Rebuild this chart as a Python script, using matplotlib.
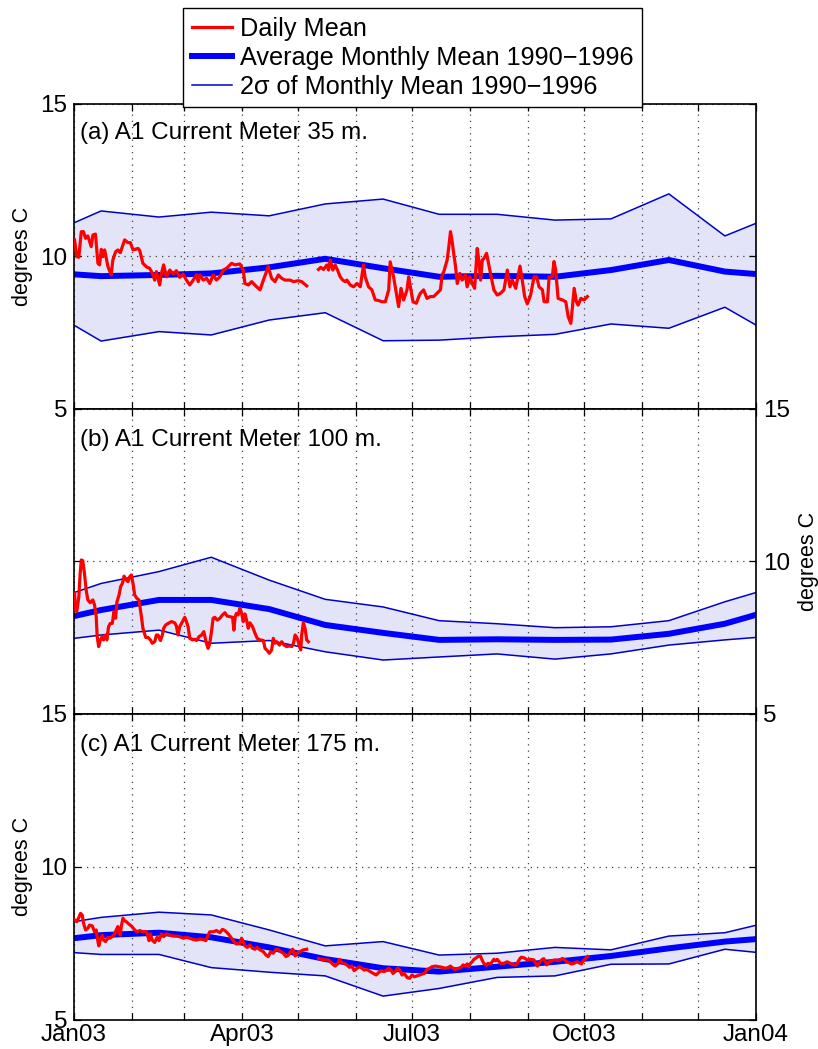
import numpy as np
import matplotlib
matplotlib.use("Agg")
import matplotlib.pyplot as plt
from matplotlib.lines import Line2D

plt.rcParams['font.family'] = ['Liberation Sans', 'DejaVu Sans']
plt.rcParams['font.size'] = 17.5

# ---------------------------------------------------------------- data
# day offsets from 1 Jan 2003 of the start of each month (and of Jan 2004)
month_start = [0, 31, 59, 90, 120, 151, 181, 212, 243, 273, 304, 334, 365]
tick_names = {0: 'Jan03', 90: 'Apr03', 181: 'Jul03', 273: 'Oct03', 365: 'Jan04'}

# climatology nodes: 1 Jan, the 15th of each month, 1 Jan of next year
clim_days = [0, 14.5, 45.5, 73.5, 104.5, 134.5, 165.5, 195.5, 226.5, 257.5,
             287.5, 318.5, 348.5, 365]

# (a) 35 m
mean_a = [9.41, 9.35, 9.39, 9.44, 9.64, 9.92, 9.61, 9.33, 9.36, 9.33, 9.55, 9.88, 9.50, 9.42]
upper_a = [11.10, 11.49, 11.29, 11.45, 11.33, 11.72, 11.88, 11.38, 11.38, 11.19, 11.23, 12.05, 10.67, 11.08]
lower_a = [7.74, 7.22, 7.53, 7.42, 7.91, 8.15, 7.23, 7.25, 7.36, 7.44, 7.78, 7.64, 8.33, 7.75]

# (b) 100 m
mean_b = [8.20, 8.40, 8.73, 8.73, 8.43, 7.91, 7.65, 7.42, 7.44, 7.42, 7.43, 7.62, 7.95, 8.24]
upper_b = [8.97, 9.27, 9.66, 10.13, 9.38, 8.75, 8.50, 8.05, 7.95, 7.82, 7.85, 8.05, 8.67, 8.97]
lower_b = [7.47, 7.58, 7.74, 7.31, 7.40, 7.03, 6.76, 6.86, 6.96, 6.79, 6.96, 7.25, 7.42, 7.50]

# (c) 175 m
mean_c = [7.67, 7.77, 7.85, 7.70, 7.37, 6.99, 6.69, 6.58, 6.74, 6.90, 7.09, 7.34, 7.56, 7.64]
upper_c = [8.21, 8.35, 8.52, 8.43, 7.94, 7.42, 7.56, 7.12, 7.18, 7.37, 7.29, 7.74, 7.85, 8.09]
lower_c = [7.20, 7.14, 7.14, 6.71, 6.56, 6.44, 5.78, 6.03, 6.39, 6.44, 6.82, 6.83, 7.31, 7.21]

# daily means (day offset, degrees C); NaN marks a gap in the record
day_a = [0.3, 1.5, 2.6, 3.9, 5.1, 6.2, 7.4, 9.2, 10.1, 11.5, 12.8, 13.7, 14.6, 15.5, 16.4,
         18.2, 19.9, 20.8, 22.3, 23.5, 24.8, 27.1, 28.9, 30.2, 31.6, 34.3, 35.2, 36.9, 39.1,
         40.5, 42.0, 43.2, 44.1, 45.9, 46.8, 48.0, 49.5, 51.3, 53.1, 54.8, 56.6, 58.4, 60.2,
         62.0, 63.8, 65.6, 66.5, 67.4, 69.2, 71.0, 72.7, 74.5, 76.3, 78.1, 79.9, 81.7, 84.4,
         86.2, 88.8, 90.6, 91.5, 93.3, 95.1, 97.8, 99.6, 101.4, 104.0, 105.8, 107.6, 109.4,
         111.2, 113.0, 115.7, 117.5, 120.1, 121.9, 124.6, 127.5,
         130.9, 132.1, 133.6, 135.4, 136.3, 137.2, 138.6, 139.8, 141.1, 142.5, 143.9, 145.2,
         146.1, 147.9, 149.7, 151.5, 153.3, 155.0, 155.9, 157.7, 159.5, 161.3, 163.1, 164.9,
         166.7, 168.5, 169.3, 171.1, 172.6, 173.8, 175.1, 176.5, 178.3, 179.2, 180.1, 181.5,
         183.3, 184.6, 185.5, 187.2, 189.0, 190.8, 192.6, 194.4, 196.2, 197.1, 198.0, 199.8,
         200.7, 201.6, 202.5, 203.4, 204.3, 205.2, 206.6, 207.8, 209.6, 210.5, 212.0, 213.2,
         214.5, 215.9, 216.8, 217.7, 218.6, 219.5, 220.9, 221.6, 223.0, 224.8, 226.6, 228.4,
         230.2, 232.0, 233.4, 234.7, 236.5, 238.8, 240.0, 241.3, 242.7, 244.5, 246.3, 247.7,
         249.0, 250.8, 251.7, 253.5, 254.4, 256.1, 257.0, 257.9, 259.2, 261.5, 263.3, 264.6,
         266.0, 266.9, 267.8, 269.0, 269.9, 271.4, 273.1, 274.9]
temp_a = [10.54, 9.99, 9.97, 10.81, 10.81, 10.59, 10.67, 10.32, 10.70, 10.73, 9.77, 9.72, 10.23,
          9.99, 10.21, 9.66, 9.39, 9.88, 10.15, 10.21, 10.12, 10.54, 10.45, 10.45, 10.21, 10.26,
          10.19, 9.77, 9.64, 9.61, 9.44, 9.22, 9.50, 9.06, 9.44, 9.72, 9.33, 9.55, 9.42, 9.53,
          9.31, 9.42, 9.22, 9.06, 9.22, 9.39, 9.17, 9.39, 9.22, 9.28, 9.11, 9.39, 9.22, 9.33,
          9.55, 9.61, 9.77, 9.72, 9.75, 9.55, 9.11, 9.06, 9.17, 9.00, 8.90, 9.22, 9.66, 9.28,
          9.17, 9.39, 9.28, 9.22, 9.22, 9.17, 9.20, 9.17, 9.03, np.nan,
          9.57, 9.64, 9.57, 9.72, 9.55, 9.88, 9.55, 9.72, 9.55, 9.33, 9.22, 9.17, 9.22, 9.06,
          9.00, 9.11, 9.00, 9.72, 9.33, 9.00, 8.90, 8.57, 8.55, 8.51, 8.51, 8.90, 9.82, 9.33,
          8.79, 8.35, 8.95, 8.57, 8.90, 9.33, 9.00, 8.51, 8.46, 8.68, 8.79, 8.90, 8.62, 8.68,
          8.68, 8.79, 8.90, 9.39, 9.50, 9.88, 10.32, 10.81, 10.48, 10.05, 9.66, 9.11, 9.44,
          9.22, 9.39, 9.00, 9.33, 9.11, 8.95, 10.26, 9.83, 9.22, 9.88, 9.93, 10.10, 9.88, 9.44,
          8.90, 8.73, 8.79, 8.90, 9.55, 9.00, 9.22, 8.95, 9.68, 9.22, 8.68, 8.44, 8.73, 9.33,
          9.33, 9.00, 8.90, 8.51, 8.51, 9.33, 9.33, 9.83, 9.55, 8.62, 8.57, 8.51, 8.02, 7.80,
          8.35, 8.95, 8.51, 8.40, 8.62, 8.57, 8.68]

day_b = [0.3, 0.8, 1.5, 2.6, 3.3, 3.9, 4.7, 5.6, 6.5, 7.4, 8.7, 10.1, 11.0, 11.9, 12.4, 13.2,
         14.1, 15.1, 15.8, 16.9, 17.6, 18.5, 19.4, 20.5, 21.4, 22.3, 23.0, 24.1, 25.0, 25.9,
         26.8, 28.0, 28.9, 29.8, 30.7, 31.6, 32.5, 33.7, 34.8, 36.1, 36.9, 38.4, 39.6, 40.9,
         41.9, 43.2, 44.1, 45.0, 46.3, 47.3, 48.0, 49.1, 50.4, 52.2, 53.9, 54.8, 55.7, 56.6,
         58.1, 59.3, 60.2, 61.1, 62.0, 63.4, 64.7, 65.6, 67.0, 68.3, 69.5, 70.9, 71.8, 72.7,
         73.6, 74.5, 75.4, 76.7, 78.1, 79.5, 80.8, 82.0, 83.5, 84.9, 85.6, 86.3, 87.0, 87.9,
         88.8, 89.7, 90.6, 91.5, 92.4, 93.3, 94.2, 95.6, 96.9, 98.1, 99.6, 101.4, 102.3, 103.2,
         104.6, 105.8, 106.7, 107.6, 108.5, 110.0, 111.2, 112.5, 113.9, 115.3, 116.6, 117.5,
         118.4, 119.3, 120.1, 120.7, 121.4, 121.9, 122.8, 123.7, 124.6, 125.5]
temp_b = [8.95, 8.40, 8.35, 8.84, 9.60, 10.04, 10.02, 9.60, 9.06, 8.73, 8.64, 8.73, 8.56, 8.18,
          7.53, 7.20, 7.42, 7.53, 7.42, 7.58, 7.42, 7.85, 7.96, 7.96, 8.35, 8.13, 8.67, 8.89,
          9.17, 9.27, 9.51, 9.38, 9.33, 9.49, 9.55, 9.27, 8.89, 8.78, 8.73, 8.18, 7.80, 7.50,
          7.50, 7.42, 7.31, 7.36, 7.58, 7.58, 7.40, 7.58, 7.80, 7.91, 7.96, 8.02, 7.98, 7.88,
          7.58, 7.85, 8.02, 8.16, 8.02, 7.85, 7.47, 7.42, 7.44, 7.40, 7.53, 7.58, 7.69, 7.31,
          7.14, 7.31, 7.69, 8.13, 8.16, 8.07, 8.13, 8.24, 8.31, 8.20, 8.18, 8.16, 7.74, 8.18,
          8.29, 8.24, 8.46, 8.31, 8.02, 8.27, 8.07, 7.80, 7.98, 7.85, 7.64, 7.47, 7.42, 7.40,
          7.14, 7.09, 6.98, 7.09, 7.47, 7.31, 7.36, 7.25, 7.36, 7.25, 7.20, 7.22, 7.20, 7.31,
          7.58, 7.50, 7.36, 7.20, 7.09, 7.58, 7.98, 7.80, 7.42, 7.36]

day_c = [0.3, 1.5, 2.6, 3.5, 4.4, 5.1, 6.2, 7.4, 8.3, 9.8, 11.0, 11.9, 12.8, 13.3, 14.0, 15.1,
         15.8, 16.9, 18.2, 19.1, 19.9, 20.8, 21.7, 22.6, 23.5, 24.1, 24.8, 25.3, 26.2, 27.1,
         28.0, 29.4, 30.7, 32.5, 33.7, 35.2, 36.9, 38.4, 39.1, 40.2, 40.9, 41.9, 43.2, 44.5,
         45.5, 46.8, 48.0, 49.5, 51.3, 53.1, 54.8, 56.6, 58.4, 60.2, 62.0, 63.8, 65.6, 67.4,
         69.2, 70.6, 71.8, 72.7, 74.5, 76.3, 78.1, 79.5, 80.8, 82.6, 84.4, 85.6, 87.0, 88.8,
         89.7, 90.6, 91.5, 92.8, 94.2, 95.6, 96.9, 98.1, 99.6, 101.4, 102.8, 104.0, 105.3,
         106.7, 108.2, 109.4, 110.7, 112.1, 113.5, 114.8, 116.0, 117.1, 118.4, 119.6, 121.0,
         122.8, 124.6, 127.5,
         130.9, 132.7, 134.5, 136.3, 138.0, 139.8, 141.1, 142.2, 143.4, 144.7, 146.1, 147.5,
         148.8, 150.0, 151.5, 152.9, 154.1, 155.4, 156.8, 158.6, 160.4, 161.8, 163.1, 164.3,
         165.8, 167.2, 168.5, 169.7, 170.8, 172.0, 173.3, 174.4, 175.6, 176.9, 178.3, 179.7,
         181.0, 182.2, 183.7, 185.1, 186.3, 187.6, 189.0, 190.5, 191.7, 193.5, 195.3, 197.1,
         198.9, 200.6, 201.5, 203.0, 204.2, 206.0, 207.3, 208.3, 209.6, 210.5, 211.4, 212.3,
         213.2, 214.1, 215.0, 216.2, 217.6, 218.5, 219.4, 220.9, 221.6, 223.0, 223.9, 224.8,
         225.7, 226.6, 228.4, 230.2, 231.9, 233.7, 235.5, 237.0, 237.7, 238.8, 239.5, 240.9,
         242.7, 244.5, 246.3, 247.2, 248.1, 249.5, 250.7, 251.6, 253.1, 254.3, 256.1, 257.4,
         258.8, 260.2, 261.5, 262.4, 263.8, 265.1, 266.3, 267.7, 269.2, 270.4, 271.7, 272.7,
         273.5, 274.2, 274.9]
temp_c = [8.27, 8.21, 8.35, 8.48, 8.43, 8.16, 7.94, 7.99, 8.10, 8.07, 7.88, 7.94, 7.56, 7.42,
          7.61, 7.77, 7.61, 7.56, 7.70, 7.67, 7.70, 7.74, 7.81, 7.94, 8.05, 7.83, 7.77, 8.05,
          8.32, 8.24, 8.21, 8.13, 8.07, 7.94, 7.88, 7.92, 7.88, 7.89, 7.83, 7.59, 7.81, 7.61,
          7.53, 7.70, 7.59, 7.81, 7.72, 7.81, 7.77, 7.74, 7.74, 7.72, 7.67, 7.70, 7.67, 7.63,
          7.61, 7.64, 7.63, 7.59, 7.77, 7.88, 7.88, 7.92, 7.85, 7.96, 7.92, 7.81, 7.67, 7.56,
          7.48, 7.50, 7.67, 7.56, 7.42, 7.37, 7.45, 7.34, 7.31, 7.37, 7.29, 7.23, 7.12, 7.07,
          7.23, 7.18, 7.31, 7.29, 7.23, 7.18, 7.07, 7.12, 7.23, 7.31, 7.09, 7.19, 7.23, 7.29,
          7.31, np.nan,
          7.01, 6.98, 6.96, 6.96, 6.85, 6.76, 6.83, 6.98, 6.87, 6.85, 6.80, 6.72, 6.76, 6.61,
          6.69, 6.74, 6.69, 6.63, 6.65, 6.58, 6.52, 6.47, 6.55, 6.61, 6.58, 6.61, 6.69, 6.63,
          6.52, 6.58, 6.69, 6.63, 6.47, 6.52, 6.39, 6.36, 6.47, 6.41, 6.44, 6.47, 6.50, 6.52,
          6.65, 6.69, 6.74, 6.76, 6.74, 6.72, 6.69, 6.72, 6.76, 6.69, 6.65, 6.69, 6.72, 6.80,
          6.76, 6.83, 6.74, 6.85, 6.90, 6.98, 7.01, 7.07, 7.09, 6.96, 6.85, 6.79, 6.85, 6.83,
          6.90, 6.98, 6.93, 6.98, 6.85, 6.85, 6.90, 6.85, 6.80, 6.80, 6.90, 7.01, 7.05, 7.03,
          6.96, 6.98, 6.96, 6.85, 6.76, 6.90, 6.98, 7.00, 6.80, 6.90, 6.94, 6.96, 6.94, 6.96,
          7.01, 6.98, 6.90, 6.87, 6.83, 6.85, 6.90, 6.87, 6.83, 6.94, 6.98, 7.03, 7.07]

titles = ['(a) A1 Current Meter 35 m.', '(b) A1 Current Meter 100 m.',
          '(c) A1 Current Meter 175 m.']

# ---------------------------------------------------------------- style
RED = '#ff0000'
BLUE = '#0000ff'
EDGE = '#0000cc'
FILL = '#e4e4f8'
FS = 17.5

W, H = 818, 1049
fig = plt.figure(figsize=(W / 100, H / 100), dpi=100)

left = 74 / W
width = (755.7 - 74) / W
tops = [104, 408.7, 713.7]
bots = [408.7, 713.7, 1020]

panels = [
    (day_a, temp_a, mean_a, upper_a, lower_a),
    (day_b, temp_b, mean_b, upper_b, lower_b),
    (day_c, temp_c, mean_c, upper_c, lower_c),
]

for i, (d, t, m, u, lo) in enumerate(panels):
    ax = fig.add_axes([left, 1 - bots[i] / H, width, (bots[i] - tops[i]) / H])
    ax.fill_between(clim_days, lo, u, color=FILL, lw=0, zorder=0.5)
    ax.plot(clim_days, u, color=EDGE, lw=1.1, zorder=2)
    ax.plot(clim_days, lo, color=EDGE, lw=1.1, zorder=2)
    ax.plot(clim_days, m, color=BLUE, lw=4.3, zorder=2.2)
    ax.plot(d, t, color=RED, lw=2.3, zorder=3)

    ax.set_xlim(0, 365)
    ax.set_ylim(5, 15)
    ax.set_yticks([5, 10, 15])
    ax.set_xticks(month_start)
    if i == 2:
        ax.set_xticklabels([tick_names.get(s, '') for s in month_start])
    else:
        ax.set_xticklabels([])
    ax.tick_params(axis='both', which='both', direction='in', length=5, width=0.9,
                   top=True, right=True, labelsize=FS, pad=5)
    ax.tick_params(axis='x', pad=3)
    if i == 1:
        ax.tick_params(axis='y', labelleft=False, labelright=True)
        ax.yaxis.set_label_position('right')
        ax.set_ylabel('degrees C', fontsize=15.5, labelpad=6)
    else:
        ax.set_ylabel('degrees C', fontsize=15.5, labelpad=5)
    ax.grid(True, linestyle=(0, (1, 4)), color='0.25', lw=0.9)
    for sp in ax.spines.values():
        sp.set_linewidth(1.2)
    ax.text(0.009, 0.905 if i == 0 else 0.898, titles[i], transform=ax.transAxes,
            ha='left', va='center', fontsize=FS)

handles = [Line2D([], [], color=RED, lw=2.3),
           Line2D([], [], color=BLUE, lw=4.3),
           Line2D([], [], color=EDGE, lw=1.1)]
labels = ['Daily Mean', 'Average Monthly Mean 1990\u22121996',
          '2\u03c3 of Monthly Mean 1990\u22121996']
leg = fig.legend(handles, labels, loc='upper left', bbox_to_anchor=(183 / W, 1 - 8 / H),
                 fontsize=18.2, frameon=True, fancybox=False, framealpha=1,
                 edgecolor='black', handlelength=1.6, handletextpad=0.3,
                 labelspacing=0.2, borderpad=0.34, borderaxespad=0)
leg.get_frame().set_linewidth(1.0)
leg.set_zorder(10)

fig.savefig('out.png', dpi=100)
